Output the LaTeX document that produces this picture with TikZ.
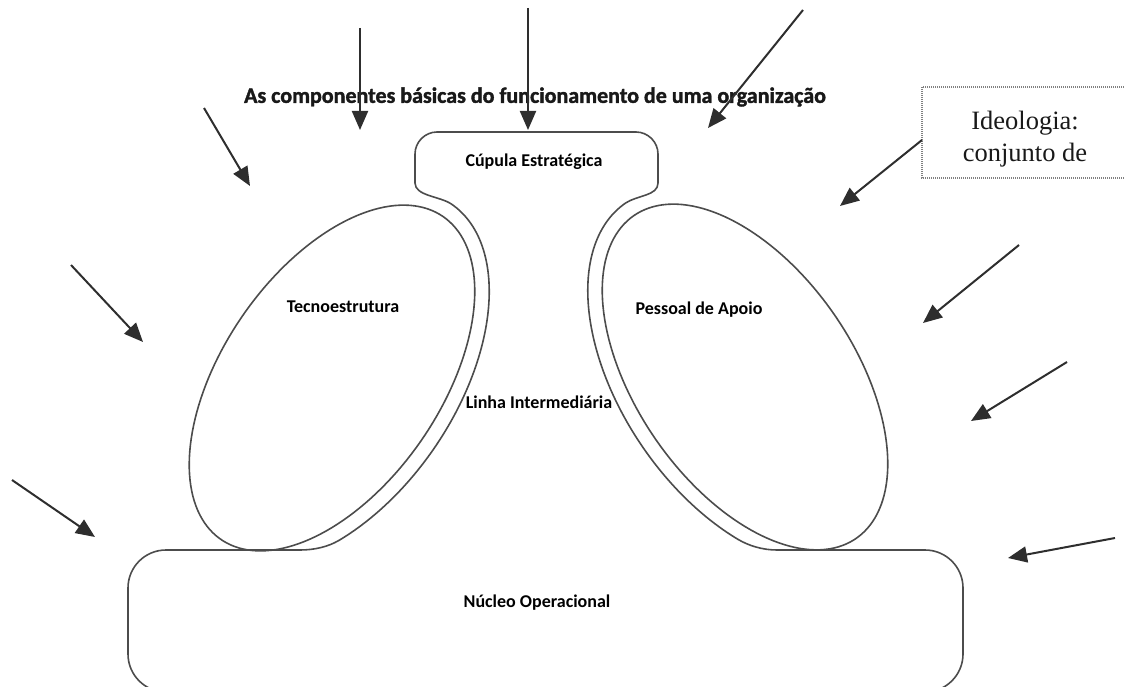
\documentclass[tikz,border=0pt]{standalone}
\usepackage{fontspec}
\setmainfont{Carlito}
\newfontfamily\ideofont{Liberation Serif}
\newfontfamily\heavyfont{Carlito Bold}[FakeBold=1.6]
\usetikzlibrary{arrows.meta}
\begin{document}
\begin{tikzpicture}[x=1pt,y=-1pt,
  outline/.style={draw=black!70, line width=1.6pt},
  lbl/.style={font=\bfseries\fontsize{18}{20}\selectfont, text=black, inner sep=0pt},
  ttl/.style={font=\heavyfont\fontsize{22}{24}\selectfont, text=black!90, inner sep=0pt},
  ideo/.style={font=\ideofont\fontsize{26.5}{32}\selectfont, text=black!90, inner sep=0pt, anchor=base},
  inarrow/.style={draw=black!82, line width=2pt, -{Triangle[length=19pt,width=16pt]}},
]
\useasboundingbox (0,0) rectangle (1124,687);

% outer outline: bottom box, rings and strategic apex
\draw[outline] (166,550) -- (300,550) .. controls (315,550) and (328.6,546.5) .. (338.9,540.4)
 -- plot[domain=128:0, samples=90, variable=\t] ({332+119.5*cos(\t)+102.19*sin(\t)},{378-173.9*cos(\t)+70.23*sin(\t)})
 .. controls (440,196.2) and (415,196) .. (415,183)
 -- (415,154) .. controls (415,142) and (425,132) .. (437,132)
 -- (636,132) .. controls (648,132) and (658,142) .. (658,154)
 -- (658,183) .. controls (658,196) and (637,195.2) .. (625.5,203.1)
 -- plot[domain=0:128, samples=90, variable=\t] ({745-119.5*cos(\t)-102.19*sin(\t)},{377-173.9*cos(\t)+70.23*sin(\t)})
 .. controls (748.4,545.5) and (762,550) .. (777,550)
 -- (925,550) .. controls (946,550) and (963,567) .. (963,588)
 -- (963,654) .. controls (963,675) and (946,692) .. (925,692)
 -- (166,692) .. controls (145,692) and (128,675) .. (128,654)
 -- (128,588) .. controls (128,567) and (145,550) .. (166,550) -- cycle;

% ellipses
\draw[outline] plot[domain=0:360, samples=160, variable=\t] ({332+111.0*cos(\t)+89.8*sin(\t)},{378-161.5*cos(\t)+61.7*sin(\t)}) -- cycle;
\draw[outline] plot[domain=0:360, samples=160, variable=\t] ({745-111.0*cos(\t)-89.8*sin(\t)},{377-161.5*cos(\t)+61.7*sin(\t)}) -- cycle;

% texts
\node[ttl] (title) at (535,97) {As componentes básicas do funcionamento de uma organização};
\node[lbl] (cupula) at (534,162) {Cúpula Estratégica};
\node[lbl] (tecno) at (343,307) {Tecnoestrutura};
\node[lbl] (apoio) at (699,310) {Pessoal de Apoio};
\node[lbl] (linha) at (539,402) {Linha Intermediária};
\node[lbl] (nucleo) at (537,603) {Núcleo Operacional};

% ideology box
\draw[draw=black!50, line width=1.2pt, dash pattern=on 1pt off 1pt] (922,87) rectangle (1140,178);
\node[ideo] (ideo1) at (1025,130) {Ideologia:};
\node[ideo] (ideo2) at (1025,162) {conjunto de};

% arrows
\coordinate (s1) at (360,28);   \coordinate (e1) at (360,130);
\coordinate (s2) at (528,8);    \coordinate (e2) at (528,130);
\coordinate (s3) at (803,10);   \coordinate (e3) at (708,128);
\coordinate (s4) at (204,108);  \coordinate (e4) at (250,186);
\coordinate (s5) at (71,265);   \coordinate (e5) at (143,342);
\coordinate (s6) at (12,480);   \coordinate (e6) at (95,537);
\coordinate (s7) at (922,140);  \coordinate (e7) at (840,206);
\coordinate (s8) at (1019,245); \coordinate (e8) at (923,323);
\coordinate (s9) at (1067,362); \coordinate (e9) at (971,421);
\coordinate (s10) at (1115,538); \coordinate (e10) at (1008,558);
\foreach \i in {1,...,10} \draw[inarrow] (s\i) -- (e\i);
\end{tikzpicture}
\end{document}
